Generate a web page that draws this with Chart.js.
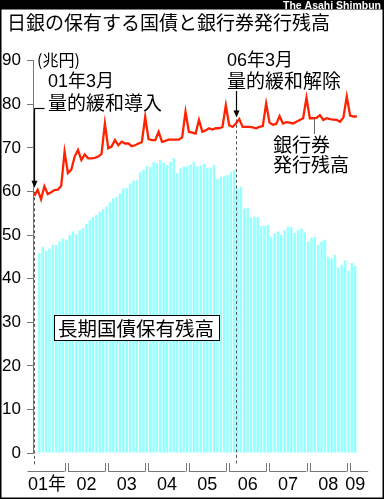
<!DOCTYPE html>
<html><head><meta charset="utf-8">
<script src="https://cdn.jsdelivr.net/npm/chart.js@4.4.1/dist/chart.umd.min.js"></script>
<style>html,body{margin:0;padding:0;background:#fff;}canvas{display:block;}</style>
</head><body>
<canvas id="c" width="384" height="500"></canvas>
<script>
// 銀行券発行残高 (兆円), monthly, 2001年3月 .. 2009年3月
const bankNotes = [
  59.0, 60.4, 58.2, 61.2, 59.4, 59.8, 60.3, 60.4, 61.3, 69.1,
  64.2, 65.0, 68.0, 69.5, 67.2, 68.5, 67.6, 67.6, 67.7, 68.0, 68.6, 75.6,
  69.9, 70.3, 71.8, 70.6, 71.4, 71.0, 71.0, 70.4, 70.6, 71.0, 71.3, 77.1,
  72.0, 71.8, 71.8, 73.7, 71.4, 71.6, 71.9, 71.9, 71.9, 71.9, 72.4, 78.3,
  73.7, 73.5, 73.3, 76.4, 73.7, 74.0, 74.5, 74.2, 74.5, 74.5, 74.8, 79.8,
  75.2, 74.8, 75.6, 76.6, 74.8, 74.8, 74.8, 74.7, 74.5, 74.8, 75.0, 80.2,
  75.8, 75.3, 75.5, 77.3, 75.6, 75.9, 75.8, 75.6, 76.0, 76.4, 76.8, 81.5,
  76.8, 76.8, 76.9, 77.5, 76.4, 76.8, 76.6, 76.5, 76.4, 76.0, 77.0, 81.8,
  77.4, 77.2, 77.2
];
// 長期国債保有残高 (兆円), monthly
const jgbHoldings = [
  45.8, 47.3, 46.4, 46.9, 47.7, 47.7, 48.5, 49.2, 48.9, 50.0,
  50.8, 50.2, 51.1, 51.6, 52.6, 53.4, 54.2, 54.6, 55.3, 55.9,
  56.6, 57.5, 58.4, 58.8, 59.6, 60.7, 60.8, 61.8, 62.5, 62.6,
  64.4, 64.9, 65.9, 65.6, 66.7, 66.4, 67.2, 66.6, 66.1, 66.8,
  67.6, 64.2, 65.3, 65.7, 65.7, 66.2, 66.8, 65.7, 66.0, 66.4,
  65.3, 65.5, 66.1, 62.8, 63.4, 63.5, 63.8, 64.4, 64.9, 60.7,
  61.1, 56.1, 56.2, 54.0, 54.2, 54.1, 52.0, 52.1, 52.3, 49.6,
  50.4, 50.8, 50.0, 51.1, 51.9, 51.8, 50.4, 51.2, 51.5, 50.6,
  48.5, 49.4, 49.6, 47.7, 48.5, 48.9, 45.0, 44.7, 45.4, 42.5,
  43.1, 44.2, 41.8, 43.6, 42.9
];
const yearLabels = ['01年', '02', '03', '04', '05', '06', '07', '08', '09'];
const startMonth = 3;            // series begins in March 2001
const yMin = 0, yMax = 90, yStep = 10;
const titleText = '日銀の保有する国債と銀行券発行残高';
const unitText = '(兆円)';
const eventMonths = [0, 60];     // 2001年3月, 2006年3月 (index into bankNotes)
const eventTexts = [['01年3月', '量的緩和導入'], ['06年3月', '量的緩和解除']];
const lineLabel = ['銀行券', '発行残高'];
const barLabel = '長期国債保有残高';
const credit = 'The Asahi Shimbun';

const JP = "'Noto Sans CJK JP','Noto Sans CJK SC',sans-serif";
const MIX = "'Liberation Sans','Noto Sans CJK JP',Arial,sans-serif";

const deco = {
  id: 'deco',
  beforeDraw(chart) {
    const c = chart.ctx;
    c.save(); c.fillStyle = '#fff'; c.fillRect(0, 0, chart.width, chart.height); c.restore();
  },
  afterDatasetDraw(chart, args) {
    if (args.index !== 1) return;
    const c = chart.ctx, xs = chart.scales.x, ys = chart.scales.y;
    c.save();
    c.strokeStyle = '#555'; c.lineWidth = 1; c.setLineDash([3, 2.5]);
    eventMonths.forEach(k => {
      const x = Math.round(xs.getPixelForValue(k)) + 0.5;
      const yl = ys.getPixelForValue(bankNotes[k]);
      c.beginPath(); c.moveTo(x, yl - 4); c.lineTo(x, 465); c.stroke();
    });
    c.restore();
  },
  afterDraw(chart) {
    const c = chart.ctx, xs = chart.scales.x, ys = chart.scales.y, a = chart.chartArea;
    c.save();
    // header band + frame
    c.fillStyle = '#000'; c.fillRect(0, 0, chart.width, 9.5);
    c.strokeStyle = '#000'; c.lineWidth = 1.5; c.strokeRect(0.75, 5, chart.width - 1.5, 493.25);
    c.fillStyle = '#fff'; c.font = "bold 10.5px 'Liberation Sans',Arial,sans-serif";
    c.textAlign = 'right'; c.textBaseline = 'alphabetic'; c.fillText(credit, 381, 8.7);
    // title
    c.fillStyle = '#000'; c.textAlign = 'left'; c.textBaseline = 'middle';
    c.font = '19px ' + JP; c.fillText(titleText, 7, 22.5);
    // unit
    c.font = '16px ' + JP; c.fillText(unitText, 37, 59.5);
    // event texts
    c.font = '18px ' + MIX; c.fillText(eventTexts[0][0], 48, 82);
    c.font = '19px ' + JP; c.fillText(eventTexts[0][1], 48, 102.5);
    c.font = '18px ' + MIX; c.fillText(eventTexts[1][0], 227, 61);
    c.font = '19px ' + JP; c.fillText(eventTexts[1][1], 227, 80.5);
    // arrows
    c.strokeStyle = '#000'; c.lineWidth = 1.2; c.fillStyle = '#000';
    const arrow = (x, y0, y1) => {
      c.beginPath(); c.moveTo(x, y0); c.lineTo(x, y1 - 5); c.stroke();
      c.beginPath(); c.moveTo(x - 3, y1 - 7); c.lineTo(x + 3, y1 - 7); c.lineTo(x, y1); c.closePath(); c.fill();
    };
    const x1 = Math.round(xs.getPixelForValue(eventMonths[0])) + 0.5;
    const x2 = Math.round(xs.getPixelForValue(eventMonths[1])) + 0.5;
    c.beginPath(); c.moveTo(x1, 108.5); c.lineTo(x1 + 10, 108.5); c.stroke();
    arrow(x1, 108.5, ys.getPixelForValue(bankNotes[eventMonths[0]]) - 8);
    arrow(x2, 91, ys.getPixelForValue(bankNotes[eventMonths[1]]) - 6);
    // line label + leader
    c.fillStyle = '#000'; c.font = '19px ' + JP;
    c.fillText(lineLabel[0], 273, 144.5);
    c.fillText(lineLabel[1], 273, 164.5);
    c.strokeStyle = '#666'; c.lineWidth = 1;
    c.beginPath(); c.moveTo(314.5, 119); c.lineTo(314.5, 134); c.stroke();
    // bar label box
    c.fillStyle = '#fff'; c.fillRect(54.5, 315.5, 165, 25);
    c.strokeStyle = '#000'; c.lineWidth = 1; c.strokeRect(54.5, 315.5, 165, 25);
    c.fillStyle = '#000'; c.font = '19.5px ' + JP; c.fillText(barLabel, 58, 328.5);
    // year brackets
    c.strokeStyle = '#777'; c.lineWidth = 1;
    c.font = '18px ' + MIX; c.textAlign = 'center';
    const yb = 471.5, yt = 463;
    yearLabels.forEach((lab, y) => {
      const kStart = 12 * y - (startMonth - 1) - 0.5;
      const b0 = xs.getPixelForValue(kStart);
      const b1 = xs.getPixelForValue(kStart + 12);
      const s = b0 + 1.6;
      const e = (y === yearLabels.length - 1) ? a.right + 10 : b1 - 1.6;
      c.beginPath(); c.moveTo(s, yb); c.lineTo(e, yb); c.stroke();
      if (y > 0) { c.beginPath(); c.moveTo(Math.round(s) + 0.5, yb); c.lineTo(Math.round(s) + 0.5, yt); c.stroke(); }
      if (y < yearLabels.length - 1) { c.beginPath(); c.moveTo(Math.round(e) + 0.5, yb); c.lineTo(Math.round(e) + 0.5, yt); c.stroke(); }
      const mid = Math.min((s + e) / 2, a.right - 3);
      c.fillStyle = '#000'; c.fillText(lab, mid + (y === 0 ? 1 : 0), 485.5);
    });
    c.restore();
  }
};

new Chart(document.getElementById('c').getContext('2d'), {
  type: 'bar',
  data: {
    datasets: [
      {
        type: 'line',
        data: bankNotes.map((v, k) => ({ x: k, y: v })),
        borderColor: '#ff2200', borderWidth: 2.3, pointRadius: 0, tension: 0,
        fill: false, order: 0
      },
      {
        type: 'bar',
        data: jgbHoldings.map((v, j) => ({ x: j + 1.5, y: v })),
        backgroundColor: '#96ffff', borderWidth: 0,
        barPercentage: 0.74, categoryPercentage: 1, order: 1
      }
    ]
  },
  options: {
    responsive: false, animation: false, devicePixelRatio: 1,
    layout: { padding: { top: 60.7, bottom: 47, left: 0, right: 25.8 } },
    plugins: { legend: { display: false }, tooltip: { enabled: false } },
    scales: {
      x: { type: 'linear', min: -0.25, max: 96.4, offset: false, display: false },
      y: {
        min: yMin, max: yMax,
        ticks: { stepSize: yStep, color: '#000', padding: 6, font: { family: MIX, size: 17 } },
        grid: { drawOnChartArea: false, tickLength: 6.5, color: '#777' },
        border: { color: '#777' },
        afterFit(s) { s.width = 33.5; }
      }
    }
  },
  plugins: [deco]
});
</script>
</body></html>
